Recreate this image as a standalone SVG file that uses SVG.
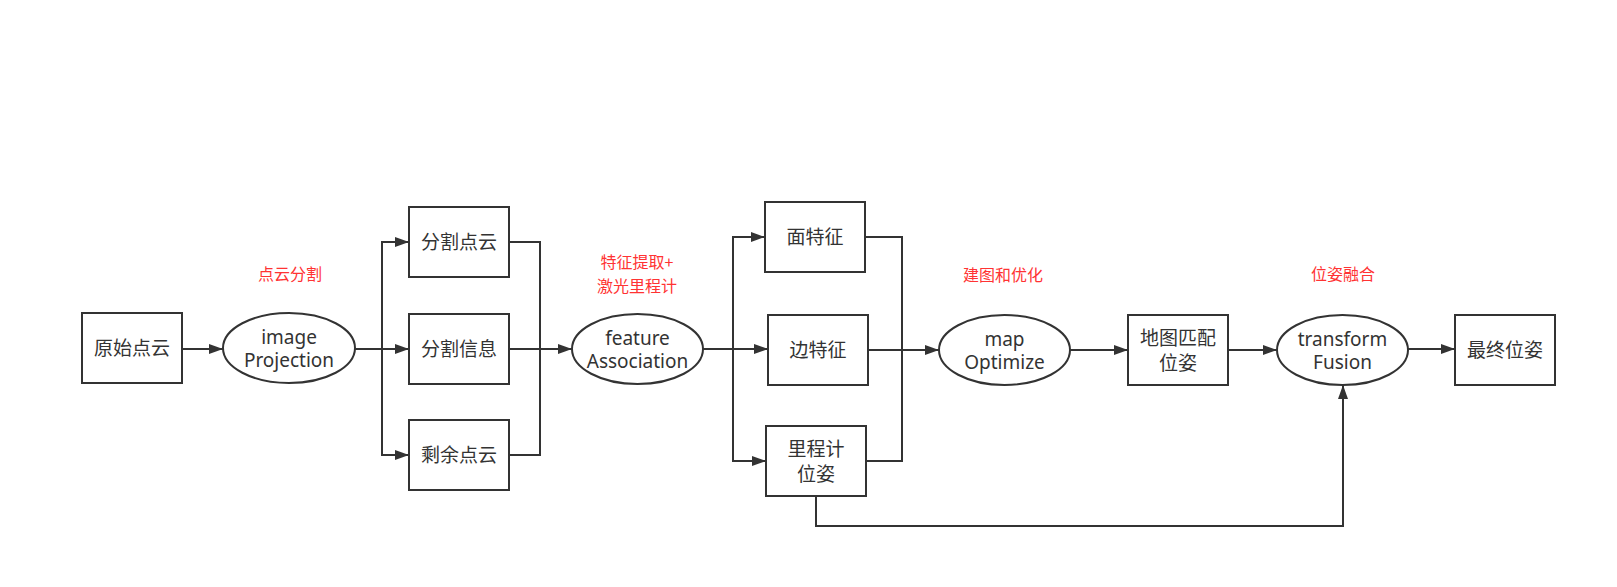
<svg xmlns="http://www.w3.org/2000/svg" width="1617" height="587" viewBox="0 0 1617 587">
<style>
.n rect, .n ellipse { fill: #fff; stroke: #333; stroke-width: 2; }
.t { font-family: "Noto Sans", "Noto Sans CJK SC", sans-serif; font-size: 19px; fill: #333; text-anchor: middle; dominant-baseline: central; }
.lab { font-family: "Noto Sans CJK SC", "Noto Sans", sans-serif; font-size: 16px; fill: #f33; text-anchor: middle; dominant-baseline: central; }
.c path { fill: none; stroke: #333; stroke-width: 2; }
</style>
<defs>
<marker id="arr" markerUnits="userSpaceOnUse" markerWidth="16" markerHeight="12" refX="14" refY="5" orient="auto">
<path d="M0,0 L14,5 L0,10 z" fill="#333"/>
</marker>
</defs>
<rect width="1617" height="587" fill="#fff"/>

<g id="labels">
<text class="lab" x="290" y="273">点云分割</text>
<text class="lab" x="637" y="261">特征提取+</text>
<text class="lab" x="637" y="285">激光里程计</text>
<text class="lab" x="1003" y="274">建图和优化</text>
<text class="lab" x="1343" y="273">位姿融合</text>
</g>

<g class="c" id="connectors">
<path d="M182,349 H223" marker-end="url(#arr)"/>
<path d="M355,349 H382 V242 H409" marker-end="url(#arr)"/>
<path d="M355,349 H409" marker-end="url(#arr)"/>
<path d="M355,349 H382 V455 H409" marker-end="url(#arr)"/>
<path d="M509,242 H540 V455 H509"/>
<path d="M509,349 H572" marker-end="url(#arr)"/>
<path d="M703,349 H733 V237 H765" marker-end="url(#arr)"/>
<path d="M703,349 H768" marker-end="url(#arr)"/>
<path d="M703,349 H733 V461 H766" marker-end="url(#arr)"/>
<path d="M865,237 H902 V461 H866"/>
<path d="M868,350 H939" marker-end="url(#arr)"/>
<path d="M1070,350 H1128" marker-end="url(#arr)"/>
<path d="M1228,350 H1277" marker-end="url(#arr)"/>
<path d="M1408,349 H1455" marker-end="url(#arr)"/>
<path d="M816,496 V526 H1343 V385" marker-end="url(#arr)"/>
</g>

<g class="n" id="n1"><rect x="82" y="313" width="100" height="70"/><text class="t" x="132" y="348">原始点云</text></g>
<g class="n" id="n2"><ellipse cx="289" cy="348" rx="66" ry="35"/><text class="t" x="289" y="337">image</text><text class="t" x="289" y="360">Projection</text></g>
<g class="n" id="n3"><rect x="409" y="207" width="100" height="70"/><text class="t" x="459" y="242">分割点云</text></g>
<g class="n" id="n4"><rect x="409" y="314" width="100" height="70"/><text class="t" x="459" y="349">分割信息</text></g>
<g class="n" id="n5"><rect x="409" y="420" width="100" height="70"/><text class="t" x="459" y="455">剩余点云</text></g>
<g class="n" id="n6"><ellipse cx="637.5" cy="349" rx="65.5" ry="35"/><text class="t" x="637.5" y="338">feature</text><text class="t" x="637.5" y="361">Association</text></g>
<g class="n" id="n7"><rect x="765" y="202" width="100" height="70"/><text class="t" x="815" y="237">面特征</text></g>
<g class="n" id="n8"><rect x="768" y="315" width="100" height="70"/><text class="t" x="818" y="350">边特征</text></g>
<g class="n" id="n9"><rect x="766" y="426" width="100" height="70"/><text class="t" x="816" y="449">里程计</text><text class="t" x="816" y="474">位姿</text></g>
<g class="n" id="n10"><ellipse cx="1004.5" cy="350" rx="65.5" ry="35"/><text class="t" x="1004.5" y="339">map</text><text class="t" x="1004.5" y="362">Optimize</text></g>
<g class="n" id="n11"><rect x="1128" y="315" width="100" height="70"/><text class="t" x="1178" y="338">地图匹配</text><text class="t" x="1178" y="363">位姿</text></g>
<g class="n" id="n12"><ellipse cx="1342.5" cy="350" rx="65.5" ry="35"/><text class="t" x="1342.5" y="339">transform</text><text class="t" x="1342.5" y="362">Fusion</text></g>
<g class="n" id="n13"><rect x="1455" y="315" width="100" height="70"/><text class="t" x="1505" y="350">最终位姿</text></g>
</svg>
